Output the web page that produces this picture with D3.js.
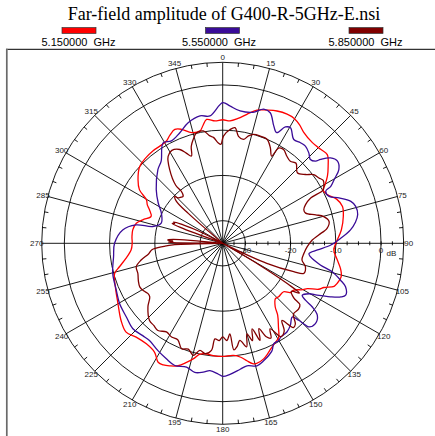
<!DOCTYPE html>
<html>
<head>
<meta charset="utf-8">
<script src="https://cdn.jsdelivr.net/npm/d3@7"></script>
<style>
  body { margin: 0; background: #fff; }
  text { font-family: "Liberation Sans", Arial, sans-serif; }
</style>
</head>
<body>
<div id="visualization"></div>
<script>
// values: [angle in degrees, amplitude in dB]
const chartTitle = 'Far-field amplitude of G400-R-5GHz-E.nsi';
const seriesNames = ['5.150000  GHz', '5.550000  GHz', '5.850000  GHz'];
const angleTicks = d3.range(0, 360, 15);
const ringValues = [-30, -20, -10, 0];
const radialLabels = ['-30', '-20', '-10', '0'];
const dbDomain = [-35, 5];

const data515 = [
  [0, -7.7], [3.4, -7.9], [7, -7.2], [10.6, -6.0], [14.4, -4.6], [18.3, -4.0], [22.3, -3.4],
  [26.5, -3.1], [29.8, -3.2], [33, -3.8], [36, -4.6], [41.7, -5.2], [46.2, -5.0], [49.7, -4.7],
  [54, -6.2], [57.3, -7.5], [60.3, -9.0], [62, -9.9], [65, -9.5], [68.8, -8.0], [72.9, -7.3],
  [77.5, -7.7], [83.5, -8.6], [90, -10.0], [93.4, -10.4], [98.3, -9.4], [102, -8.4], [105.6, -7.8],
  [109.3, -8.2], [111.1, -8.6], [113.6, -10.6], [115.6, -11.5], [118.2, -13.8], [120, -14.5],
  [123.4, -16.2], [126, -16.5], [128.5, -17.8], [133.8, -17.9], [136.4, -18.1], [140.4, -16.8],
  [142.6, -15.0], [146.3, -12.8], [149.3, -10.8], [152, -10.2], [155.4, -9.4], [158, -8.6],
  [160.5, -7.9], [164.2, -7.4], [166, -7.6], [168.4, -8.5], [171, -9.5], [174.5, -10.1],
  [180, -10.0], [184.8, -10.1], [188, -10.3], [191.6, -10.0], [194, -8.8], [196.9, -7.5],
  [200, -6.2], [203.4, -5.5], [206, -5.1], [208.5, -5.1], [212, -6.6], [217.2, -7.1],
  [222.7, -6.8], [227.4, -6.0], [232.8, -6.8], [240.1, -8.3], [247.9, -9.4], [254.4, -10.2],
  [257.2, -11.6], [261, -13.3], [265.8, -14.7], [270, -15.0], [274, -14.9], [278.5, -14.9],
  [283.1, -15.4], [286.4, -16.6], [290.6, -18.1], [294.6, -17.2], [297, -16.3], [299.7, -15.6],
  [302.8, -13.1], [306.9, -11.6], [312.8, -10.0], [318, -9.6], [322.9, -9.4], [328.9, -9.4],
  [331.2, -9.2], [334, -8.4], [337.2, -7.7], [340.1, -8.2], [344.3, -9.6], [348.5, -9.7],
  [350.5, -8.6], [352.6, -7.4], [356.4, -7.9]
];

const data555 = [
  [0, -3.9], [3, -4.6], [7.5, -5.5], [13, -5.3], [17, -4.0], [20, -4.3], [23.5, -6.7],
  [26, -7.8], [28.3, -5.8], [30.4, -5.4], [34.4, -7.2], [37.7, -6.9], [40.4, -6.8], [43.6, -7.4],
  [46.3, -8.2], [48.5, -7.6], [49.4, -6.5], [51.6, -4.6], [54.4, -3.8], [57.6, -4.6], [60.2, -6.6],
  [62.2, -8.0], [63.2, -9.5], [66.2, -9.3], [68.7, -7.4], [71.9, -5.2], [74.5, -4.5], [78, -4.5],
  [81, -5.3], [84, -6.6], [87.6, -8.9], [90.9, -11.1], [94, -14.0], [96.7, -15.8], [98.7, -15.4],
  [102.5, -12.9], [104.6, -10.0], [107.4, -7.7], [109.5, -6.2], [112.9, -5.5], [114.4, -6.3],
  [116.4, -8.4], [118.8, -11.2], [120.3, -12.9], [123.2, -14.0], [124.5, -12.8], [125.4, -10.7],
  [127.3, -8.7], [130.9, -7.9], [134.2, -8.5], [134.8, -9.7], [135.4, -11.1], [136.7, -12.6],
  [140.5, -11.5], [144.1, -10.8], [148.4, -10.6], [150.1, -10.2], [153.1, -10.1], [155.3, -8.9],
  [160.8, -7.5], [164.4, -6.9], [168.8, -7.4], [172.1, -6.9], [176.8, -6.0], [180, -5.6],
  [182, -6.1], [185.7, -6.7], [188.6, -6.2], [192.2, -5.8], [196.3, -6.5], [201.4, -6.0],
  [206, -6.6], [211.1, -7.3], [217, -8.1], [220.9, -8.0], [226.4, -7.6], [232.6, -8.2],
  [239.7, -8.6], [246.2, -9.3], [254.7, -9.8], [263, -10.7], [270, -11.1], [277.6, -12.7],
  [282, -15.4], [283.5, -19.1], [288.2, -20.7], [296.2, -19.9], [302, -18.2], [309, -16.1],
  [318.7, -13.3], [323.2, -12.3], [329.3, -9.2], [333.4, -9.7], [338.8, -8.8], [344, -7.3],
  [349.9, -6.4], [354.3, -6.7]
];

const data585 = [
  [0.4, -11.3], [3.7, -9.8], [6.1, -9.3], [8.4, -11.1], [11.3, -11.6], [13.5, -10.6], [15.8, -10.0],
  [19.3, -9.9], [23.1, -10.0], [26.5, -11.4], [29.3, -12.9], [30.4, -10.6], [33, -10.3],
  [36.4, -11.1], [39.5, -11.5], [42.5, -11.0], [46.6, -12.3], [50.3, -11.2], [53, -9.8],
  [55.8, -9.3], [58, -8.8], [60.5, -9.3], [62.1, -9.9], [62.8, -13.2], [65, -14.8], [67.5, -15.6],
  [70, -15.5], [73, -13.5], [75.2, -11.9], [78.4, -11.0], [81.8, -11.7], [85, -13.7], [87.9, -15.2],
  [92.3, -16.3], [97, -16.9], [101.9, -17.1], [105.8, -16.0], [110.4, -15.9], [111.8, -18.1],
  [114.4, -24.3], [116, -40], [119, -40], [120.5, -26], [122, -18], [123, -14.8], [125, -16.5],
  [127.5, -15.2], [128.5, -13.2], [131, -12.8], [135, -12.9], [138, -11.0], [140, -10.7],
  [142.5, -13.5], [145, -11.3], [148, -10.7], [151, -13.4], [153, -11.5], [155, -12.2],
  [157, -14.5], [159, -12.0], [161, -15.0], [163, -12.5], [165, -14.3], [167, -11.5], [170, -13.2],
  [172, -12.0], [174, -11.3], [175.5, -14.9], [177.5, -13.5], [180, -14.3], [182, -13.5],
  [184.6, -13.8], [186, -11.2], [189, -10.3], [192, -10.8], [194.7, -9.4], [198, -10.4],
  [201.3, -10.0], [205, -11.5], [208.6, -11.4], [212.4, -11.8], [216.6, -11.0], [220, -11.3],
  [223.5, -11.5], [229.6, -13.3], [233.7, -15.0], [236, -15.1], [239, -14.6], [242.3, -14.3],
  [246, -14.6], [250.4, -15.1], [254.8, -15.2], [258.4, -16.6], [262, -18.5], [264.8, -19.3],
  [267, -22], [268.3, -24], [269.3, -40], [270.8, -24], [271.5, -23], [272.5, -24], [273.5, -22.8],
  [274.5, -24], [276, -40], [289, -40], [290.5, -25], [291.5, -23], [292.5, -23.5], [293.5, -23.2],
  [295, -25.5], [297, -29], [298.5, -40], [309, -40], [311, -25], [312.2, -21.2], [314.4, -20.2],
  [315.4, -20.9], [318, -21.3], [320, -21.4], [321.5, -20.3], [321, -18.5], [324.3, -14.9],
  [327.9, -12.3], [331.3, -11.6], [335.4, -12.2], [338, -13.5], [340.3, -14.5], [342, -12.5],
  [344.2, -11.1], [346.7, -9.9], [350.2, -9.8], [353.2, -11.1], [355, -11.5], [357.5, -12.8],
  [359, -13.1]
];

const seriesData = [data515, data555, data585];

// layout and style
const width = 435;
const height = 436;
const cx = 222.7;
const cy = 243.3;
const outerRadius = 181;
const seriesColors = ['#ff0000', '#3a0c98', '#800000'];
const legendX = [79, 222.5, 366];

const svg = d3.select('#visualization')
  .append('svg')
  .attr('width', width)
  .attr('height', height);

// frame
svg.append('line')
  .attr('x1', 6.8).attr('x2', 6.8).attr('y1', 48.6).attr('y2', height)
  .attr('stroke', '#6a6a6a').attr('stroke-width', 1.7);
svg.append('line')
  .attr('x1', 7.6).attr('x2', width).attr('y1', 49.3).attr('y2', 49.3)
  .attr('stroke', '#000').attr('stroke-width', 1);

svg.append('text')
  .attr('x', 224)
  .attr('y', 20)
  .attr('text-anchor', 'middle')
  .style('font-family', '"Liberation Serif", "Times New Roman", serif')
  .style('font-size', '18px')
  .text(chartTitle);

// legend
const legend = svg.append('g').selectAll('g')
  .data(seriesNames)
  .enter()
  .append('g');

legend.append('rect')
  .attr('x', (d, i) => legendX[i] - 17)
  .attr('y', 27.6)
  .attr('width', 34)
  .attr('height', 5.8)
  .attr('fill', (d, i) => seriesColors[i])
  .attr('stroke', '#333')
  .attr('stroke-width', 0.7);

legend.append('text')
  .attr('x', (d, i) => legendX[i] - (i === 1 ? 3.5 : 0.5))
  .attr('y', 46)
  .attr('text-anchor', 'middle')
  .style('font-size', '11px')
  .style('white-space', 'pre')
  .text((d) => d);

const rScale = d3.scaleLinear()
  .domain(dbDomain)
  .range([0, outerRadius])
  .clamp(true);

const rad = (deg) => (deg * Math.PI) / 180;

const g = svg.append('g')
  .attr('transform', `translate(${cx},${cy})`);

// rings
g.selectAll('circle.ring')
  .data(ringValues.concat([dbDomain[1]]))
  .enter()
  .append('circle')
  .attr('class', 'ring')
  .attr('r', (d) => rScale(d))
  .attr('fill', 'none')
  .attr('stroke', '#000')
  .attr('stroke-width', 0.9);

// spokes
g.selectAll('line.spoke')
  .data(angleTicks)
  .enter()
  .append('line')
  .attr('class', 'spoke')
  .attr('x1', 0)
  .attr('y1', 0)
  .attr('x2', (d) => outerRadius * Math.sin(rad(d)))
  .attr('y2', (d) => -outerRadius * Math.cos(rad(d)))
  .attr('stroke', '#000')
  .attr('stroke-width', 0.9);

// small ticks on the outer circle every 5 degrees
g.selectAll('line.atick')
  .data(d3.range(0, 360, 5).filter((d) => d % 15 !== 0))
  .enter()
  .append('line')
  .attr('class', 'atick')
  .attr('x1', (d) => outerRadius * Math.sin(rad(d)))
  .attr('y1', (d) => -outerRadius * Math.cos(rad(d)))
  .attr('x2', (d) => (outerRadius - 4) * Math.sin(rad(d)))
  .attr('y2', (d) => -(outerRadius - 4) * Math.cos(rad(d)))
  .attr('stroke', '#000')
  .attr('stroke-width', 0.9);

// ticks along the radial axis
g.selectAll('line.rtick')
  .data(d3.range(-32.5, 5.1, 2.5))
  .enter()
  .append('line')
  .attr('class', 'rtick')
  .attr('x1', (d) => rScale(d))
  .attr('x2', (d) => rScale(d))
  .attr('y1', -2)
  .attr('y2', 2)
  .attr('stroke', '#000')
  .attr('stroke-width', 0.9);

// angle labels
g.selectAll('text.alabel')
  .data(angleTicks)
  .enter()
  .append('text')
  .attr('class', 'alabel')
  .attr('x', (d) => 186 * Math.sin(rad(d)))
  .attr('y', (d) => -186 * Math.cos(rad(d)))
  .attr('text-anchor', 'middle')
  .attr('dominant-baseline', 'central')
  .style('font-size', '8px')
  .style('fill', '#222')
  .text((d) => d);

// radial labels
g.selectAll('text.rlabel')
  .data(ringValues)
  .enter()
  .append('text')
  .attr('class', 'rlabel')
  .attr('x', (d) => rScale(d))
  .attr('y', 7)
  .attr('text-anchor', 'middle')
  .attr('dominant-baseline', 'central')
  .style('font-size', '8px')
  .style('fill', '#222')
  .text((d, i) => radialLabels[i]);

g.append('text')
  .attr('x', rScale(0) + 5.5)
  .attr('y', 10)
  .attr('dominant-baseline', 'central')
  .style('font-size', '8px')
  .style('fill', '#222')
  .text('dB');

// curves
const radialLine = d3.lineRadial()
  .angle((d) => rad(d[0]))
  .radius((d) => rScale(d[1]))
  .curve(d3.curveCatmullRomClosed.alpha(0.5));

g.selectAll('path.series')
  .data(seriesData)
  .enter()
  .append('path')
  .attr('class', 'series')
  .attr('d', radialLine)
  .attr('fill', 'none')
  .attr('stroke', (d, i) => seriesColors[i])
  .attr('stroke-width', 1.3)
  .attr('stroke-linejoin', 'round');
</script>
</body>
</html>
